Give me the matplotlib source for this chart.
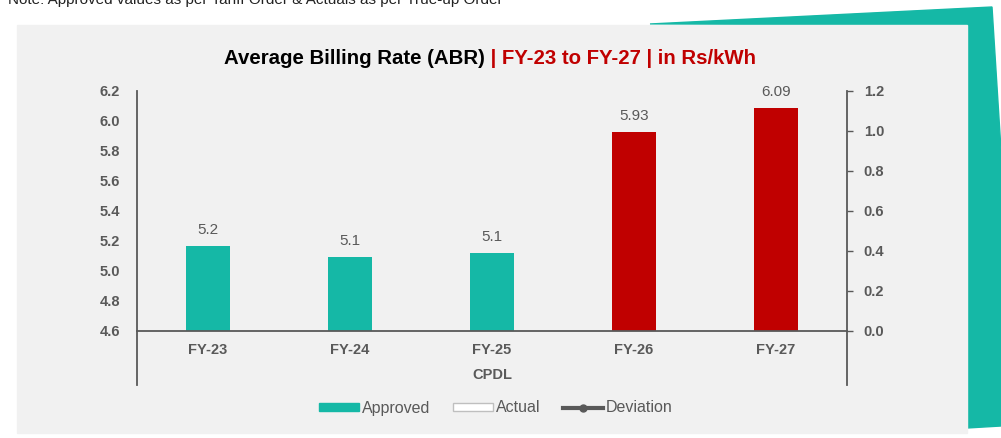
import matplotlib.pyplot as plt
from matplotlib.patches import Polygon, Rectangle, Patch
from matplotlib.lines import Line2D

plt.rcParams['font.family'] = ['Liberation Sans', 'DejaVu Sans']

years = ["FY-23", "FY-24", "FY-25", "FY-26", "FY-27"]
abr = [5.17, 5.095, 5.12, 5.93, 6.09]
labels = ["5.2", "5.1", "5.1", "5.93", "6.09"]
colors = ["#15b8a6", "#15b8a6", "#15b8a6", "#c00000", "#c00000"]
yticks_left = [4.6, 4.8, 5.0, 5.2, 5.4, 5.6, 5.8, 6.0, 6.2]
yticks_right = [0.0, 0.2, 0.4, 0.6, 0.8, 1.0, 1.2]

W, H = 1001, 438
fig = plt.figure(figsize=(W / 100, H / 100), dpi=100)
fig.patch.set_facecolor("white")

def fx(x): return x / W
def fy(y): return 1 - y / H

# decorative teal shape + grey panel behind the chart
teal = Polygon([(fx(650), fy(24)), (fx(992), fy(7)), (fx(1001), fy(150)),
                (fx(1001), fy(426)), (fx(967), fy(428)), (fx(967), fy(25))],
               closed=True, transform=fig.transFigure, color="#15b8a6", zorder=-2)
fig.patches.append(teal)
panel = Rectangle((fx(17), fy(433)), fx(967 - 17), (433 - 25) / H,
                  transform=fig.transFigure, color="#f1f1f1", zorder=-1)
fig.patches.append(panel)

# note line, cut off at the top edge as in the source screenshot
fig.text(fx(8), fy(0), "Note: Approved values as per Tariff Order & Actuals as per True-up Order",
         fontsize=11, color="#222222", va="center", ha="left")

ax = fig.add_axes([fx(137), fy(331), fx(847 - 137), (331 - 91) / H])
ax.set_facecolor("none")
x = range(len(years))
ax.bar(x, abr, width=0.31, color=colors, zorder=2)
ax.set_ylim(4.6, 6.2)
ax.set_xlim(-0.5, 4.5)
for i, (v, t) in enumerate(zip(abr, labels)):
    ax.text(i, v + 0.06, t, ha="center", va="bottom", fontsize=11, color="#595959")

ax.set_yticks(yticks_left)
ax.set_yticklabels([f"{v:.1f}" for v in yticks_left], fontsize=10.5, fontweight="bold", color="#595959")
ax.tick_params(axis="y", length=0, pad=12)
ax.set_xticks(list(x))
ax.set_xticklabels(years, fontsize=10.5, fontweight="bold", color="#595959")
ax.tick_params(axis="x", length=0, pad=9)
ax.text(0.5, -0.185, "CPDL", transform=ax.transAxes, ha="center", va="center",
        fontsize=10.5, fontweight="bold", color="#595959")

for s in ["top", "right"]:
    ax.spines[s].set_visible(False)
for s in ["bottom", "left"]:
    ax.spines[s].set_color("#595959")
    ax.spines[s].set_linewidth(1.3)
ext = -54 / 240
ax.plot([0, 0], [0, ext], transform=ax.transAxes, color="#595959", lw=1.3, clip_on=False)
ax.plot([1, 1], [0, ext], transform=ax.transAxes, color="#595959", lw=1.3, clip_on=False)

ax2 = ax.twinx()
ax2.set_ylim(0, 1.2)
ax2.set_yticks(yticks_right)
ax2.set_yticklabels([f"{v:.1f}" for v in yticks_right], fontsize=10.5, fontweight="bold", color="#595959")
ax2.tick_params(axis="y", direction="out", length=4, width=1, color="#595959", pad=8)
for s in ["top", "left", "bottom"]:
    ax2.spines[s].set_visible(False)
ax2.spines["right"].set_color("#595959")
ax2.spines["right"].set_linewidth(1.3)

# two-coloured title
t1 = fig.text(fx(224), fy(58), "Average Billing Rate (ABR)", fontsize=14.7, fontweight="bold",
              color="black", ha="left", va="center")
fig.canvas.draw()
bb = t1.get_window_extent()
fig.text(bb.x1 / W, fy(58), " | FY-23 to FY-27 | in Rs/kWh", fontsize=14.7, fontweight="bold",
         color="#c00000", ha="left", va="center")

handles = [Patch(facecolor="#15b8a6", edgecolor="#15b8a6"),
           Patch(facecolor="white", edgecolor="#bfbfbf"),
           Line2D([0], [0], color="#595959", lw=3, marker="o", markersize=5,
                  markerfacecolor="#595959", markeredgecolor="#595959")]
fig.legend(handles, ["Approved", "Actual", "Deviation"], loc="center", bbox_to_anchor=(fx(496), fy(408)),
           ncol=3, frameon=False, fontsize=11.5, labelcolor="#595959", handlelength=2.5,
           handleheight=0.45, handletextpad=0.2, columnspacing=1.4)

fig.savefig("out.png", dpi=100, facecolor="white")
